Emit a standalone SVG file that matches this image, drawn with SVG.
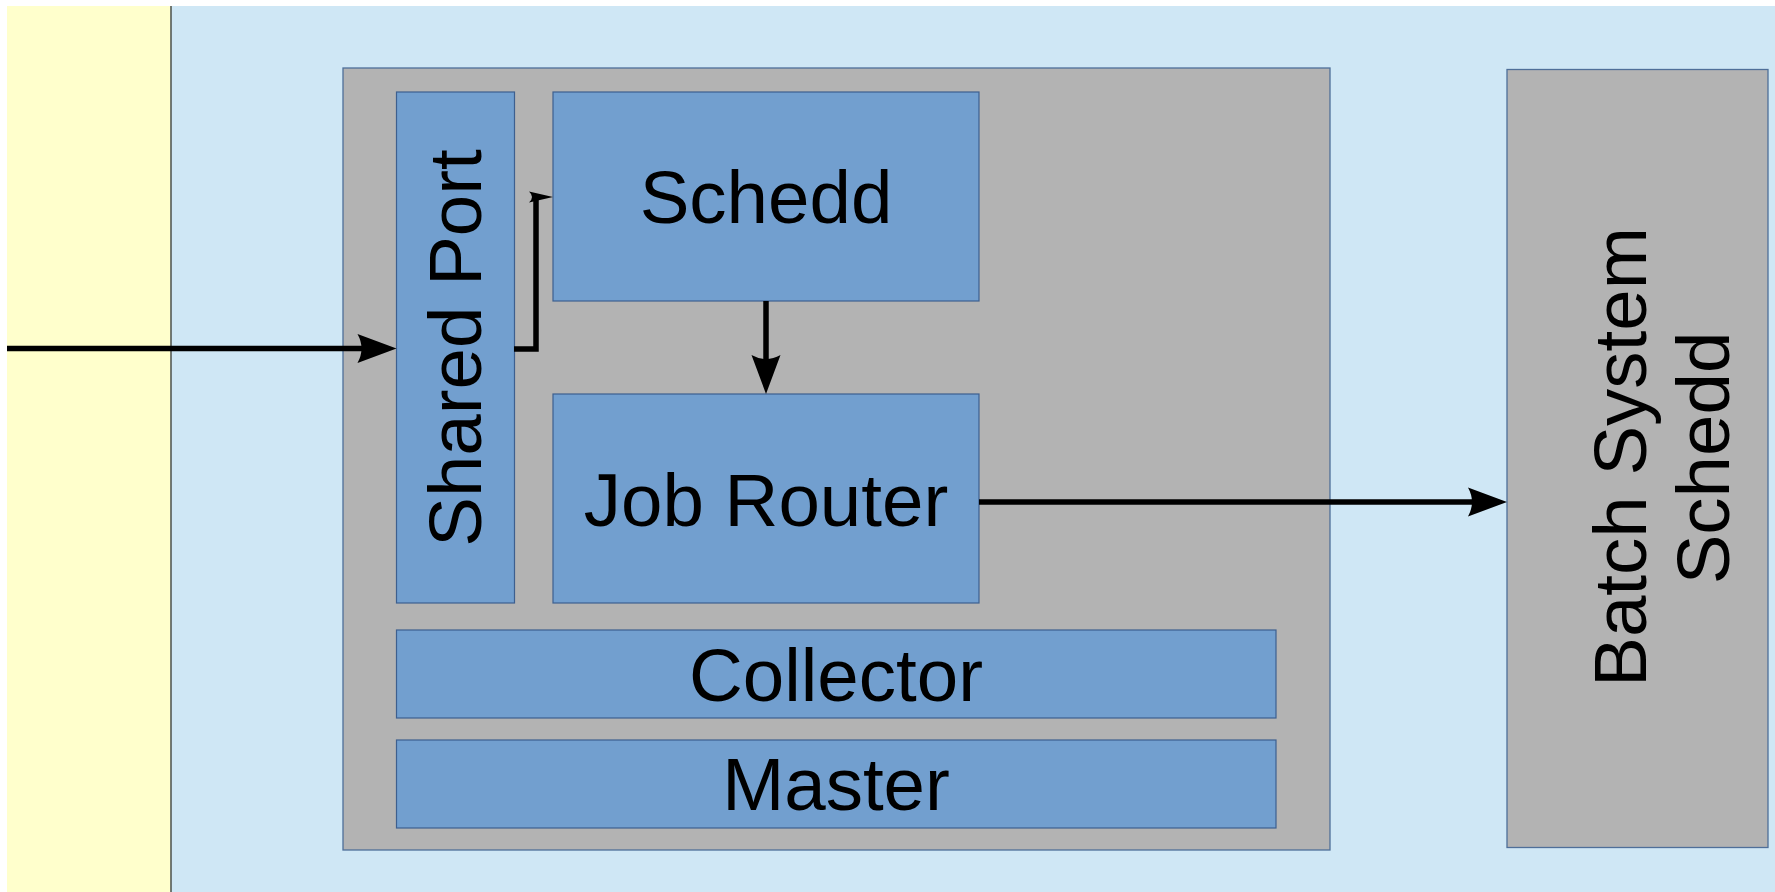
<svg xmlns="http://www.w3.org/2000/svg" width="1775" height="892" viewBox="0 0 1775 892">
<style>
.box{fill:#b3b3b3;stroke:#4f6f99;stroke-width:1.3}
.comp{fill:#729fcf;stroke:#3d5f8f;stroke-width:1.2}
.lbl{font-family:"Liberation Sans",Arial,sans-serif;font-size:74.5px;fill:#000;text-anchor:middle}
.conn{fill:none;stroke:#000;stroke-width:5.5}
.head{fill:#000;stroke:none}
</style>
<defs>
<path id="ah" d="M0,0 L-39,-14.5 Q-31,0 -39,14.5 Z"/>
</defs>
<rect x="0" y="0" width="1775" height="892" fill="#ffffff"/>
<g id="external">
<rect x="7" y="6" width="164" height="886" fill="#ffffcc"/>
</g>
<g id="site">
<rect x="171" y="6" width="1604" height="886" fill="#cfe7f5"/>
<line x1="171" y1="6" x2="171" y2="892" stroke="#555a55" stroke-width="1.6"/>
</g>
<g id="ce">
<rect class="box" x="343" y="68" width="987" height="782"/>
</g>
<g id="shared-port">
<rect class="comp" x="396.5" y="92" width="118" height="511"/>
<text class="lbl" transform="translate(481,348) rotate(-90)">Shared Port</text>
</g>
<g id="schedd">
<rect class="comp" x="553" y="92" width="426" height="209"/>
<text class="lbl" x="766" y="223">Schedd</text>
</g>
<g id="job-router">
<rect class="comp" x="553" y="394" width="426" height="209"/>
<text class="lbl" x="766" y="526">Job Router</text>
</g>
<g id="collector">
<rect class="comp" x="396.5" y="630" width="879.5" height="88"/>
<text class="lbl" x="836" y="701">Collector</text>
</g>
<g id="master">
<rect class="comp" x="396.5" y="740" width="879.5" height="88"/>
<text class="lbl" x="836" y="810">Master</text>
</g>
<g id="batch-system-schedd">
<rect class="box" x="1507" y="69.5" width="261" height="778"/>
<text class="lbl" transform="translate(1646,457) rotate(-90)">Batch System</text>
<text class="lbl" transform="translate(1729,458) rotate(-90)">Schedd</text>
</g>
<g id="connectors">
<line class="conn" x1="7" y1="348.5" x2="362" y2="348.5"/>
<use href="#ah" class="head" transform="translate(396.5,348.5)"/>
<polyline class="conn" points="514,349 536,349 536,197 540,197"/>
<path class="head" d="M553,197 L529,191.5 Q535,197 529,202.5 Z"/>
<line class="conn" x1="766" y1="301" x2="766" y2="362"/>
<use href="#ah" class="head" transform="translate(766,394) rotate(90)"/>
<line class="conn" x1="979" y1="502" x2="1473" y2="502"/>
<use href="#ah" class="head" transform="translate(1507,502)"/>
</g>
</svg>
